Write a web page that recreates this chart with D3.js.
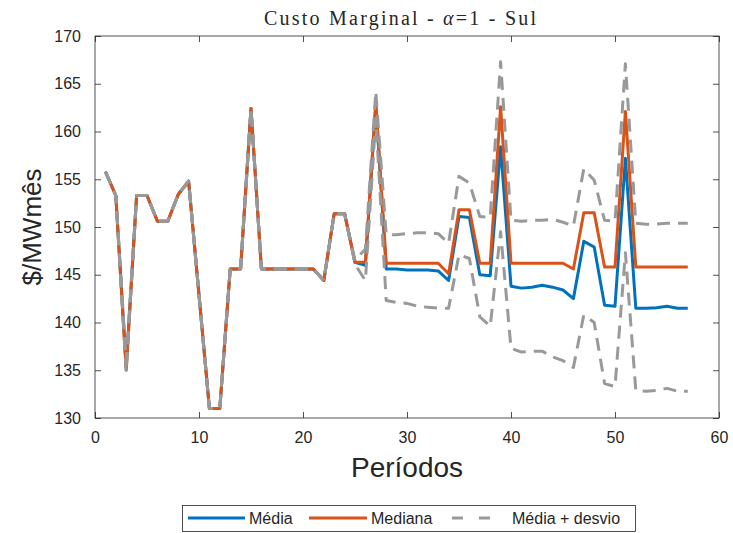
<!DOCTYPE html>
<html>
<head>
<meta charset="utf-8">
<script src="https://cdn.jsdelivr.net/npm/d3@7"></script>
<style>
  body { margin: 0; background: #fff; }
  text { font-family: "Liberation Sans", Arial, sans-serif; fill: #262626; }
</style>
</head>
<body>
<div id="chart"></div>
<script>
var
  periodos = d3.range(1, 58),

  media = [155.8, 153.3, 135.3, 153.3, 153.3, 150.6, 150.6, 153.4, 154.8, 142.9,
    131.0, 131.0, 145.6, 145.6, 162.4, 145.6, 145.6, 145.6, 145.6, 145.6,
    145.6, 144.4, 151.4, 151.4, 146.3, 146.0, 162.8, 145.6, 145.6, 145.5,
    145.5, 145.5, 145.4, 144.4, 151.1, 151.0, 145.0, 144.9, 158.4, 143.8,
    143.6, 143.7, 143.9, 143.7, 143.4, 142.5, 148.5, 147.9, 141.8, 141.7,
    157.2, 141.5, 141.5, 141.55, 141.7, 141.5, 141.5],

  mediana = [155.8, 153.3, 135.0, 153.3, 153.3, 150.6, 150.6, 153.4, 154.8, 142.9,
    131.0, 131.0, 145.6, 145.6, 162.4, 145.6, 145.6, 145.6, 145.6, 145.6,
    145.6, 144.4, 151.4, 151.4, 146.3, 146.3, 163.0, 146.2, 146.2, 146.2,
    146.2, 146.2, 146.2, 145.1, 151.8, 151.8, 146.2, 146.2, 162.6, 146.2,
    146.2, 146.2, 146.2, 146.2, 146.2, 145.6, 151.5, 151.5, 145.8, 145.8,
    162.1, 145.8, 145.8, 145.8, 145.8, 145.8, 145.8],

  mediaMaisDesvio = [155.8, 153.3, 135.9, 153.3, 153.3, 150.6, 150.6, 153.4, 154.8, 142.9,
    131.0, 131.0, 145.6, 145.6, 162.4, 145.6, 145.6, 145.6, 145.6, 145.6,
    145.6, 144.4, 151.4, 151.4, 146.5, 147.7, 164.2, 149.2, 149.2, 149.3,
    149.4, 149.4, 149.3, 148.3, 155.3, 154.6, 151.1, 151.0, 167.3, 150.7,
    150.6, 150.7, 150.7, 150.8, 150.5, 150.1, 156.1, 154.9, 150.7, 150.6,
    167.1, 150.4, 150.3, 150.3, 150.4, 150.4, 150.4],

  mediaMenosDesvio = [155.8, 153.3, 134.8, 153.3, 153.3, 150.6, 150.6, 153.4, 154.8, 142.9,
    131.0, 131.0, 145.6, 145.6, 162.4, 145.6, 145.6, 145.6, 145.6, 145.6,
    145.6, 144.4, 151.4, 151.4, 146.1, 144.4, 161.4, 142.3, 142.1, 142.0,
    141.7, 141.6, 141.5, 141.5, 147.1, 146.7, 140.6, 139.6, 149.5, 137.3,
    136.9, 137.0, 137.0, 136.4, 136.0, 135.3, 140.8, 140.0, 133.6, 133.3,
    147.3, 132.9, 132.8, 132.9, 133.1, 132.8, 132.8],

  xTicks = [0, 10, 20, 30, 40, 50, 60],
  yTicks = [130, 135, 140, 145, 150, 155, 160, 165, 170],

  WIDTH = 733,
  HEIGHT = 533,
  LEFT = 95,
  RIGHT = 719,
  TOP = 36,
  BOTTOM = 418,
  AXIS_COLOR = "#262626",
  BLUE = "#0072BD",
  ORANGE = "#D95319",
  GRAY = "#999999";

var svg = d3.select("#chart").append("svg")
  .attr("width", WIDTH)
  .attr("height", HEIGHT);

var x = d3.scaleLinear().domain([0, 60]).range([LEFT, RIGHT]);
var y = d3.scaleLinear().domain([130, 170]).range([BOTTOM, TOP]);

function drawSeries(values, color, dash){
  var line = d3.line()
    .x(function(d, i){ return x(periodos[i]); })
    .y(function(d){ return y(d); });
  var path = svg.append("path")
    .datum(values)
    .attr("d", line)
    .attr("fill", "none")
    .attr("stroke", color)
    .attr("stroke-width", 3)
    .attr("stroke-linejoin", "round");
  if (dash) path.attr("stroke-dasharray", dash);
}

drawSeries(media, BLUE);
drawSeries(mediana, ORANGE);
drawSeries(mediaMaisDesvio, GRAY, "13,8");
drawSeries(mediaMenosDesvio, GRAY, "13,8");

// axes with inward ticks on all four sides
function styleAxis(g){
  g.select(".domain").remove();
  g.selectAll("line").attr("stroke", AXIS_COLOR).attr("stroke-width", 0.8);
  g.selectAll("text").attr("font-size", 16).attr("fill", AXIS_COLOR)
    .attr("font-family", "Liberation Sans, Arial, sans-serif");
}

svg.append("g")
  .attr("transform", "translate(0," + BOTTOM + ")")
  .call(d3.axisBottom(x).tickValues(xTicks).tickSizeInner(-6).tickSizeOuter(0).tickPadding(14))
  .call(styleAxis);

svg.append("g")
  .attr("transform", "translate(0," + TOP + ")")
  .call(d3.axisTop(x).tickValues(xTicks).tickSizeInner(-6).tickSizeOuter(0).tickFormat(""))
  .call(styleAxis);

svg.append("g")
  .attr("transform", "translate(" + LEFT + ",0)")
  .call(d3.axisLeft(y).tickValues(yTicks).tickSizeInner(-6).tickSizeOuter(0).tickPadding(14))
  .call(styleAxis);

svg.append("g")
  .attr("transform", "translate(" + RIGHT + ",0)")
  .call(d3.axisRight(y).tickValues(yTicks).tickSizeInner(-6).tickSizeOuter(0).tickFormat(""))
  .call(styleAxis);

svg.append("rect")
  .attr("x", LEFT)
  .attr("y", TOP)
  .attr("width", RIGHT - LEFT)
  .attr("height", BOTTOM - TOP)
  .attr("fill", "none")
  .attr("stroke", AXIS_COLOR)
  .attr("stroke-width", 0.8);

// title and labels
var title = svg.append("text")
  .attr("x", 400)
  .attr("y", 25)
  .attr("text-anchor", "middle")
  .attr("textLength", 272)
  .attr("lengthAdjust", "spacing")
  .style("font-family", "'Liberation Serif', 'DejaVu Serif', serif")
  .attr("font-size", 20)
  .attr("fill", "#000");
title.append("tspan").text("Custo Marginal - ");
title.append("tspan").attr("font-style", "italic").text("α");
title.append("tspan").text("=1 - Sul");

svg.append("text")
  .attr("x", (LEFT + RIGHT) / 2)
  .attr("y", 477)
  .attr("text-anchor", "middle")
  .attr("font-size", 28)
  .text("Períodos");

svg.append("text")
  .attr("transform", "translate(41," + ((TOP + BOTTOM) / 2) + ") rotate(-90)")
  .attr("text-anchor", "middle")
  .attr("font-size", 26)
  .text("$/MWmês");

// legend
var legend = svg.append("g");
legend.append("rect")
  .attr("x", 182.5)
  .attr("y", 505.5)
  .attr("width", 453)
  .attr("height", 26)
  .attr("fill", "#fff")
  .attr("stroke", AXIS_COLOR)
  .attr("stroke-width", 0.8);

var legendItems = [
  { label: "Média", color: BLUE, dash: null, x1: 188, x2: 245, tx: 249 },
  { label: "Mediana", color: ORANGE, dash: null, x1: 309, x2: 367, tx: 371 },
  { label: "Média + desvio", color: GRAY, dash: "11,16", x1: 452, x2: 493, tx: 512 }
];

legendItems.forEach(function(item){
  var l = legend.append("line")
    .attr("x1", item.x1).attr("x2", item.x2)
    .attr("y1", 518).attr("y2", 518)
    .attr("stroke", item.color)
    .attr("stroke-width", 3);
  if (item.dash) l.attr("stroke-dasharray", item.dash);
  legend.append("text")
    .attr("x", item.tx)
    .attr("y", 524)
    .attr("font-size", 16)
    .text(item.label);
});
</script>
</body>
</html>
